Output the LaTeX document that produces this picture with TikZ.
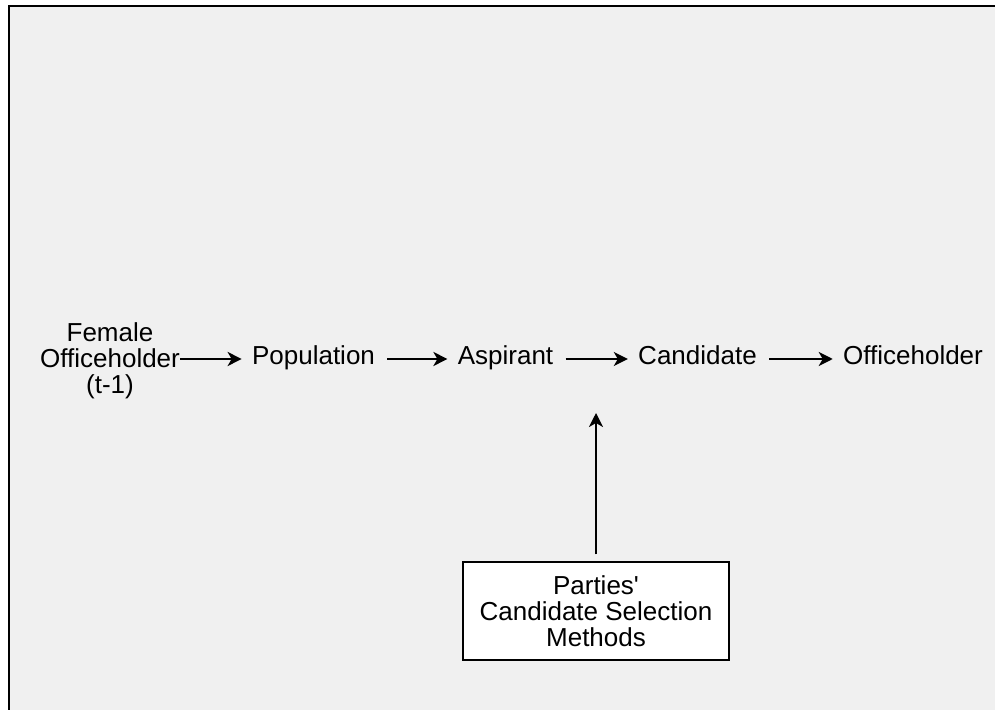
\documentclass[tikz,border=0pt]{standalone}
\usepackage{fontspec}
\setmainfont{Liberation Sans}
\usetikzlibrary{arrows.meta,positioning}
\definecolor{panelgray}{HTML}{F0F0F0}

\tikzset{
	stage/.style={inner sep=0pt, align=center, font=\fontsize{13}{13}\selectfont},
	flow/.style={-{Stealth[length=7pt,width=7pt,inset=2pt]}, line width=1.2pt},
	gap/.style={shorten <=6pt, shorten >=5pt},
	methodbox/.style={draw, fill=white, line width=0.6pt, minimum width=133pt, minimum height=49pt, inner sep=0pt, align=center, font=\fontsize{13}{13}\selectfont}
}

\begin{document}
\begin{tikzpicture}[x=0.5pt,y=-0.5pt]
		\useasboundingbox (0,0) rectangle (995,710);
		\fill[panelgray] (9,6) rectangle (995,710);
		\draw[line width=1pt] (9,710) -- (9,6) -- (995,6);
		
		% main chain
		\node[stage] (female) at (110,361) {Female\\Officeholder\\(t-1)};
		\node[stage, anchor=mid] (pop) at (313.5,359) {Population};
		\node[stage, anchor=mid] (asp) at (505.5,359) {Aspirant};
		\node[stage, anchor=mid] (cand) at (697.5,359) {Candidate};
		\node[stage, anchor=mid] (office) at (913,359) {Officeholder};
		
		\draw[flow, shorten >=5pt] (female.east |- pop.mid west) -- (pop.mid west);
		\draw[flow, gap] (pop.mid east) -- (asp.mid west);
		\draw[flow, gap] (asp.mid east) -- (cand.mid west);
		\draw[flow, gap] (cand.mid east) -- (office.mid west);
		
		% selection methods
		\node[methodbox] (sel) at (596,611) {Parties\textquotesingle\\Candidate Selection\\Methods};
		\coordinate (cs) at (596,413);
		\draw[flow, shorten <=3.5pt] (sel.north) -- (cs);
\end{tikzpicture}
\end{document}
